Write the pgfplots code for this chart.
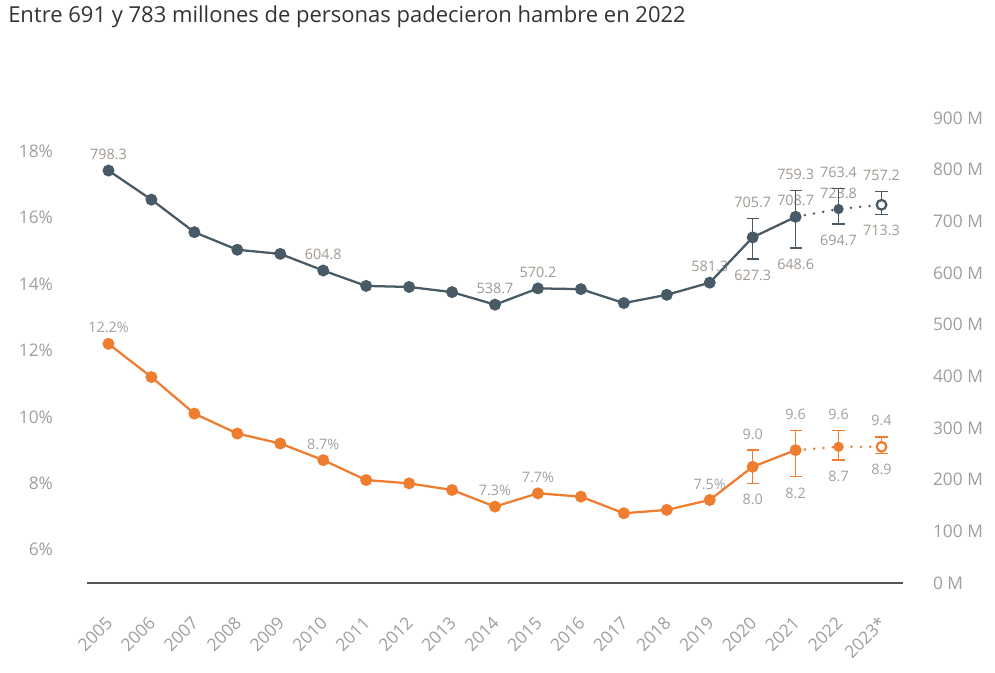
\documentclass[border=0pt]{standalone}
\usepackage{pgfplots}
\pgfplotsset{compat=1.18}
\usepackage{fontspec}
\setmainfont{Open Sans}

\definecolor{slate}{HTML}{485A66}
\definecolor{orng}{HTML}{EE7D2F}
\definecolor{tickc}{HTML}{9E9E9E}
\definecolor{lblw}{HTML}{A09890}
\definecolor{lblc}{HTML}{9DA1A6}
\definecolor{titlec}{HTML}{333333}
\definecolor{basec}{HTML}{555555}

\tikzset{
  dl/.style={font=\fontsize{10.8}{12}\selectfont, inner sep=0pt, anchor=center},
  up/.style={yshift=12pt},
  down/.style={yshift=-12.3pt},
}

\pgfplotsset{
  common/.style={
    at={(65.25pt,66.75pt)}, anchor=south west,
    scale only axis, width=612pt, height=348.75pt,
    xmin=-0.5, xmax=18.5,
    xtick={0,...,18},
    major tick length=0pt,
    tick style={draw=none},
    /pgf/number format/assume math mode=true,
    ticklabel style={font=\fontsize{13}{15}\selectfont, text=tickc},
    clip=false,
  },
  dotline/.style={line width=2.1pt, line cap=round, dash pattern=on 0pt off 7pt},
  ebars/.style={only marks, mark=none,
    error bars/.cd, y dir=both, y explicit,
    error bar style={draw=#1, line width=1pt},
    error mark options={draw=#1, line width=1pt, mark size=4.6pt, rotate=90}},
}

\begin{document}
\begin{tikzpicture}
\useasboundingbox (0,0) rectangle (746.25pt,504pt);

\node[anchor=base west, inner sep=0pt, text=titlec, font=\fontsize{16.5}{19}\selectfont]
  at (6pt,487pt) {Entre 691 y 783 millones de personas padecieron hambre en 2022};

% Prevalence of undernourishment (%), left scale
\begin{axis}[common,
  ymin=5, ymax=19,
  ytick={6,8,...,18},
  yticklabel={\pgfmathprintnumber{\tick}\%},
  yticklabel style={anchor=east, xshift=-22pt},
  axis lines*=left,
  y axis line style={draw=none},
  x axis line style={draw=basec, line width=1.3pt},
  xticklabels={2005,2006,2007,2008,2009,2010,2011,2012,2013,2014,2015,2016,2017,2018,2019,2020,2021,2022,2023*},
  xticklabel style={anchor=east, xshift=3pt, yshift=-25pt, rotate=45},
]
\node[dl, up, text=lblc] at (axis cs:0,12.2) {12.2\%};
\node[dl, up, text=lblc] at (axis cs:5,8.7) {8.7\%};
\node[dl, up, text=lblc] at (axis cs:9,7.3) {7.3\%};
\node[dl, up, text=lblc] at (axis cs:10,7.7) {7.7\%};
\node[dl, up, text=lblc] at (axis cs:14,7.5) {7.5\%};
\node[dl, up, text=lblc] at (axis cs:15,9.0) {9.0};
\node[dl, down, text=lblc] at (axis cs:15,8.0) {8.0};
\node[dl, up, text=lblc] at (axis cs:16,9.6) {9.6};
\node[dl, down, text=lblc] at (axis cs:16,8.2) {8.2};
\node[dl, up, text=lblc] at (axis cs:17,9.6) {9.6};
\node[dl, down, text=lblc] at (axis cs:17,8.7) {8.7};
\node[dl, up, text=lblc] at (axis cs:18,9.4) {9.4};
\node[dl, down, text=lblc] at (axis cs:18,8.9) {8.9};

\addplot[ebars=orng] coordinates {
  (15,8.5) += (0,0.5) -= (0,0.5)
  (16,9.0) += (0,0.6) -= (0,0.8)
  (17,9.1) += (0,0.5) -= (0,0.4)
  (18,9.1) += (0,0.3) -= (0,0.2)
};
\addplot[orng, dotline] coordinates {(16,9.0) (17,9.1) (18,9.1)};
\addplot[orng, line width=1.7pt, mark=*, mark size=3.6pt, mark options={solid}] coordinates {
  (0,12.2) (1,11.2) (2,10.1) (3,9.5) (4,9.2) (5,8.7) (6,8.1) (7,8.0) (8,7.8)
  (9,7.3) (10,7.7) (11,7.6) (12,7.1) (13,7.2) (14,7.5) (15,8.5) (16,9.0)
};
\addplot[orng, only marks, mark=*, mark size=3.6pt] coordinates {(17,9.1)};
\addplot[orng, only marks, mark=*, mark size=3.6pt, mark options={fill=white, line width=1.7pt}] coordinates {(18,9.1)};
\end{axis}

% Number of undernourished people (millions), right scale
\begin{axis}[common,
  ymin=0, ymax=900,
  ytick={0,100,...,900},
  yticklabel={\pgfmathprintnumber{\tick} M},
  yticklabel style={anchor=west, xshift=19pt},
  axis y line*=right,
  axis x line=none,
  y axis line style={draw=none},
  xticklabels={},
]
\node[dl, up, text=lblw] at (axis cs:0,798.3) {798.3};
\node[dl, up, text=lblw] at (axis cs:5,604.8) {604.8};
\node[dl, up, text=lblw] at (axis cs:9,538.7) {538.7};
\node[dl, up, text=lblw] at (axis cs:10,570.2) {570.2};
\node[dl, up, text=lblw] at (axis cs:14,581.3) {581.3};
\node[dl, up, text=lblw] at (axis cs:15,705.7) {705.7};
\node[dl, down, text=lblw] at (axis cs:15,627.3) {627.3};
\node[dl, up, text=lblw] at (axis cs:16,759.3) {759.3};
\node[dl, up, text=lblw] at (axis cs:16,708.7) {708.7};
\node[dl, down, text=lblw] at (axis cs:16,648.6) {648.6};
\node[dl, up, text=lblw] at (axis cs:17,763.4) {763.4};
\node[dl, up, text=lblw] at (axis cs:17,723.8) {723.8};
\node[dl, down, text=lblw] at (axis cs:17,694.7) {694.7};
\node[dl, up, text=lblw] at (axis cs:18,757.2) {757.2};
\node[dl, down, text=lblw] at (axis cs:18,713.3) {713.3};

\addplot[ebars=slate] coordinates {
  (15,669.0) += (0,36.7) -= (0,41.7)
  (16,708.7) += (0,50.6) -= (0,60.1)
  (17,723.8) += (0,39.6) -= (0,29.1)
  (18,732.0) += (0,25.2) -= (0,18.7)
};
\addplot[slate, dotline] coordinates {(16,708.7) (17,723.8) (18,732.0)};
\addplot[slate, line width=1.7pt, mark=*, mark size=3.6pt, mark options={solid}] coordinates {
  (0,798.3) (1,742) (2,679) (3,645) (4,637) (5,604.8) (6,575) (7,573) (8,563)
  (9,538.7) (10,570.2) (11,568.8) (12,541.8) (13,557.8) (14,581.3) (15,669.0) (16,708.7)
};
\addplot[slate, only marks, mark=*, mark size=3.6pt] coordinates {(17,723.8)};
\addplot[slate, only marks, mark=*, mark size=3.6pt, mark options={fill=white, line width=1.7pt}] coordinates {(18,732.0)};
\end{axis}
\end{tikzpicture}
\end{document}
